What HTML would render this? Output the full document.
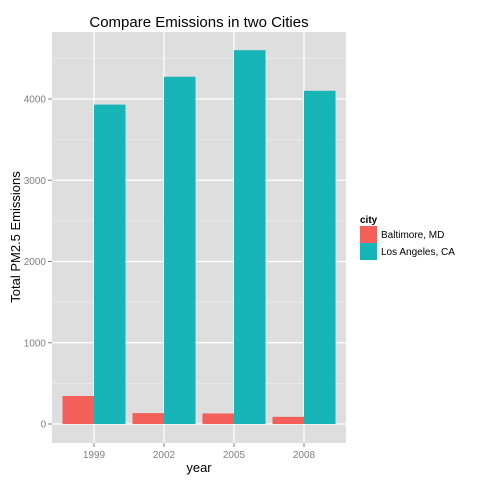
<!DOCTYPE html>
<html><head><meta charset="utf-8"><style>
html,body{margin:0;padding:0;background:#fff}
svg text{font-family:"Liberation Sans",Arial,sans-serif}
</style></head><body>
<svg id="c" width="480" height="480" xmlns="http://www.w3.org/2000/svg">
<rect x="0" y="0" width="480" height="480" fill="#fff"/>
<rect x="52" y="32" width="294" height="411" fill="#dedede"/>
<g id="grid"></g><g id="bars"></g><g id="axes"></g>
<text x="199" y="27" font-size="15" text-anchor="middle" fill="#000">Compare Emissions in two Cities</text>
<text x="199" y="472" font-size="13" text-anchor="middle" fill="#000">year</text>
<text x="0" y="0" font-size="13" text-anchor="middle" fill="#000" transform="translate(20,237) rotate(-90)">Total PM2.5 Emissions</text>
<g>
<text x="360" y="223" font-size="10" font-weight="bold" fill="#000">city</text>
<rect x="360" y="226" width="17" height="17" fill="#f45f5a"/>
<rect x="360" y="243" width="17" height="17" fill="#17b4b8"/>
<text x="381" y="238" font-size="10" fill="#000">Baltimore, MD</text>
<text x="381" y="255" font-size="10" fill="#000">Los Angeles, CA</text>
</g>
</svg>
<script>
const categories = ["1999","2002","2005","2008"];
const baltimore = [345, 134, 130, 88];
const losAngeles = [3931, 4274, 4601, 4101];
const yTicks = [0, 1000, 2000, 3000, 4000];
const yMinor = [500, 1500, 2500, 3500, 4500];
const colors = ["#f45f5a", "#17b4b8"];
const NS = "http://www.w3.org/2000/svg";
const px0 = 52, px1 = 346, py0 = 32, py1 = 443;
const y = v => 424 - v * 0.08125;
const step = (px1 - px0) / (categories.length + 0.2);
const x = i => px0 + step * 0.6 + i * step;
function mk(tag, attrs, parent){const e=document.createElementNS(NS,tag);for(const k in attrs)e.setAttribute(k,attrs[k]);document.getElementById(parent).appendChild(e);return e;}
yMinor.forEach(v=>{const l=mk("line",{x1:px0,x2:px1,y1:y(v),y2:y(v),stroke:"#ececec","stroke-width":0.7},"grid");

});
yTicks.forEach(v=>{const l=mk("line",{x1:px0,x2:px1,y1:y(v),y2:y(v),stroke:"#fff","stroke-width":1.2},"grid");


const t=mk("line",{x1:48,x2:52,y1:y(v),y2:y(v),stroke:"#7f7f7f","stroke-width":1},"axes");


const tx=mk("text",{x:46,y:y(v)+3.5,"font-size":10,"text-anchor":"end",fill:"#7f7f7f"},"axes");
tx.textContent=String(v);

});
const bw = step * 0.45;
categories.forEach((c,i)=>{const cx=x(i);
const l=mk("line",{x1:cx,x2:cx,y1:py0,y2:py1,stroke:"#fff","stroke-width":1.2},"grid");


const t=mk("line",{x1:cx,x2:cx,y1:py1,y2:py1+4,stroke:"#7f7f7f","stroke-width":1},"axes");


const tx=mk("text",{x:cx,y:458,"font-size":10,"text-anchor":"middle",fill:"#7f7f7f"},"axes");
tx.textContent=c;


const b1=mk("rect",{x:cx-bw,y:y(baltimore[i]),width:bw,height:y(0)-y(baltimore[i]),fill:colors[0]},"bars");


const b2=mk("rect",{x:cx,y:y(losAngeles[i]),width:bw,height:y(0)-y(losAngeles[i]),fill:colors[1]},"bars");

});
</script>
</body></html>
